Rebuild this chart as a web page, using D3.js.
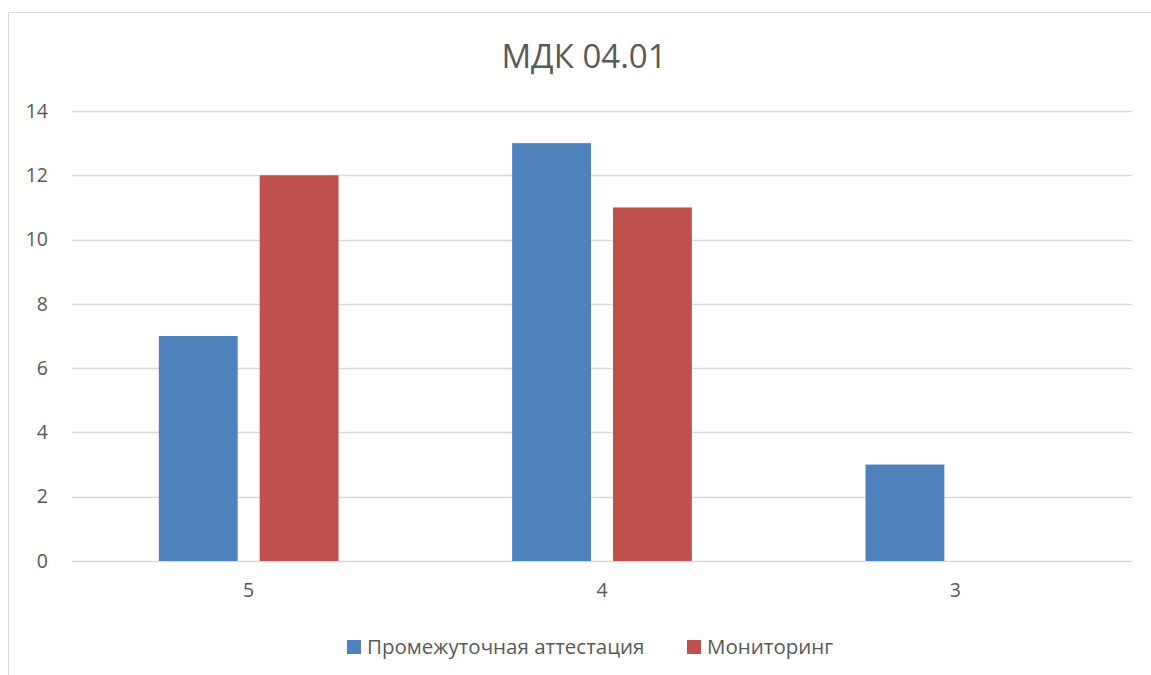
<!DOCTYPE html>
<html>
<head>
<meta charset="utf-8">
<script src="https://cdn.jsdelivr.net/npm/d3@7"></script>
<style>
  html, body { margin: 0; padding: 0; background: #fff; }
  svg { display: block; font-family: "Open Sans", "Noto Sans", sans-serif; }
</style>
</head>
<body>
<svg id="chart" width="1151" height="675"></svg>
<script>
// Chart data
const title = "МДК 04.01";
const categories = ["5", "4", "3"];
const seriesNames = ["Промежуточная аттестация", "Мониторинг"];
const attestation = [7, 13, 3];
const monitoring = [12, 11, 0];
const yTicks = [0, 2, 4, 6, 8, 10, 12, 14];
const colors = ["#4F81BD", "#C0504D"];

const svg = d3.select("#chart");
const W = 1151, H = 675;
const plot = { left: 72, right: 1132, top: 111, bottom: 561 };
const textColor = "#595959";

// Outer chart frame (top and left edges visible)
svg.append("path")
  .attr("d", `M8.5,${H} V12.5 H${W}`)
  .attr("fill", "none")
  .attr("stroke", "#d9d9d9")
  .attr("stroke-width", 1);

const x0 = d3.scaleBand()
  .domain(categories)
  .range([plot.left, plot.right])
  .paddingInner(0)
  .paddingOuter(0);

// Inner band for the two series within each category
const x1 = d3.scaleBand()
  .domain(seriesNames)
  .range([0, x0.bandwidth()])
  .paddingInner(0.218)
  .paddingOuter(0.861);

const y = d3.scaleLinear().domain([0, 14]).range([plot.bottom, plot.top]);

// Gridlines
svg.append("g")
  .selectAll("line")
  .data(yTicks)
  .join("line")
  .attr("x1", plot.left)
  .attr("x2", plot.right)
  .attr("y1", d => Math.round(y(d)) + 0.5)
  .attr("y2", d => Math.round(y(d)) + 0.5)
  .attr("stroke", "#d9d9d9")
  .attr("stroke-width", 1.5);

// Y axis labels
const yAxis = d3.axisLeft(y).tickValues(yTicks).tickSize(0).tickPadding(0);
const gy = svg.append("g").attr("transform", `translate(48,0)`).call(yAxis);
gy.select(".domain").remove();
gy.selectAll("text")
  .attr("fill", textColor)
  .style("font-size", "19.5px")
  .style("font-family", "\"Open Sans\", sans-serif");

// Bars
const rows = categories.map((c, i) => ({ cat: c, values: [attestation[i], monitoring[i]] }));
const groups = svg.append("g")
  .selectAll("g")
  .data(rows)
  .join("g")
  .attr("transform", d => `translate(${x0(d.cat)},0)`);

groups.selectAll("rect")
  .data(d => d.values.map((v, k) => ({ name: seriesNames[k], v, k })))
  .join("rect")
  .filter(d => d.v > 0)
  .attr("x", d => x1(d.name))
  .attr("width", x1.bandwidth())
  .attr("y", d => y(d.v))
  .attr("height", d => y(0) - y(d.v))
  .attr("fill", d => colors[d.k]);

// X axis labels
const xAxis = d3.axisBottom(x0).tickSize(0).tickPadding(0);
const gx = svg.append("g").attr("transform", `translate(0,${plot.bottom + 22})`).call(xAxis);
gx.select(".domain").remove();
gx.selectAll("text")
  .attr("fill", textColor)
  .attr("dy", "0.71em")
  .style("font-size", "19.5px")
  .style("font-family", "\"Open Sans\", sans-serif");

// Title
svg.append("text")
  .attr("x", 584)
  .attr("y", 68)
  .attr("text-anchor", "middle")
  .attr("fill", textColor)
  .style("font-size", "33px")
  .text(title);

// Legend
const legend = svg.append("g");
const legendItems = [
  { name: seriesNames[0], color: colors[0], x: 347 },
  { name: seriesNames[1], color: colors[1], x: 687 }
];
legendItems.forEach(it => {
  legend.append("rect")
    .attr("x", it.x).attr("y", 640)
    .attr("width", 14).attr("height", 14)
    .attr("fill", it.color);
  legend.append("text")
    .attr("x", it.x + 20).attr("y", 654)
    .attr("fill", textColor)
    .style("font-size", "20.5px")
    .text(it.name);
});
</script>
</body>
</html>
